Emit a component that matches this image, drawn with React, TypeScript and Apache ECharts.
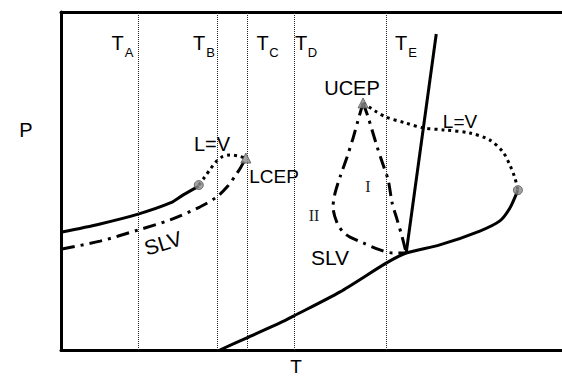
import React, { useEffect, useRef } from "react";
import * as echarts from "echarts";

// Isotherm temperatures (T units, 0..100) and their names
const isothermNames = ["A", "B", "C", "D", "E"];
const isothermT = [15.4, 31.1, 37.1, 46.5, 64.9];

// Left pure-component vapour-pressure branch (solid)
const vpLeft: [number, number][] = [
  [0.2, 34.9], [7.8, 37.3], [15.4, 40.2], [21.8, 43.5], [24.4, 45.9], [27.5, 48.5],
];
// Left SLV line (dash-dot) ending at LCEP
const slvLeft: [number, number][] = [
  [0.2, 29.9], [7.8, 32.2], [15.4, 35.5], [21.8, 38.5], [27.7, 42.3], [31.1, 45.3],
  [33.3, 48.5], [34.9, 51.8], [35.9, 54.1], [36.9, 56.8],
];
// Left L=V critical line (dotted)
const lvLeft: [number, number][] = [
  [27.5, 48.8], [28.7, 51.2], [29.7, 53.3], [30.7, 55.3], [32.1, 57.1], [33.7, 57.7],
  [35.3, 57.4], [36.9, 56.8],
];
// Right L=V critical line (dotted) from UCEP to critical point
const lvRight: [number, number][] = [
  [60.3, 73.1], [62.7, 70.7], [64.9, 68.9], [68.7, 67.2], [72.3, 65.7], [76.6, 65.1],
  [81.6, 64.2], [85.6, 62.1], [88.2, 58.6], [89.6, 54.7], [90.6, 50.9], [91.2, 47.3],
];
// Steep melting line (solid)
const melting: [number, number][] = [[74.9, 93.5], [68.9, 28.7]];
// Lower solid curve (sublimation / vapour pressure)
const vpRight: [number, number][] = [
  [31.7, 0], [37.1, 3.6], [43.7, 8.0], [46.5, 10.1], [55.7, 17.2], [64.9, 25.7],
  [68.9, 28.7], [75.6, 31.1], [83.6, 35.2], [87.6, 38.2], [89.6, 42.0], [91.2, 47.3],
];
// SLV loop branches (dash-dot) from UCEP
const slvLoopOuter: [number, number][] = [
  [60.3, 73.1], [59.3, 68.0], [58.3, 62.7], [57.1, 57.1], [55.7, 51.2], [54.7, 46.4],
  [54.3, 42.3], [55.1, 37.6], [56.3, 34.9], [57.7, 33.4], [60.3, 31.7], [63.7, 29.6],
  [66.3, 28.7], [68.9, 28.7],
];
const slvLoopInner: [number, number][] = [
  [60.3, 73.1], [61.3, 68.9], [63.1, 60.1], [64.1, 55.6], [65.3, 50.3], [66.1, 43.5],
  [67.1, 38.5], [68.1, 33.4], [68.9, 28.7],
];
// Critical points (circles) and end points (triangles)
const criticalPoints: [number, number][] = [[27.5, 48.8], [91.2, 47.3]];
const endPoints: [number, number][] = [[36.9, 56.8], [60.3, 73.1]];

const FONT = "'Liberation Sans', Arial, Helvetica, sans-serif";
const SERIF = "'Liberation Serif', 'Times New Roman', serif";

const solid = { color: "#000", width: 3, cap: "butt" as const };
const dashDot = { color: "#000", width: 3, type: [13, 6, 3, 6], cap: "butt" as const };
const dotted = { color: "#000", width: 3, type: [3, 4], cap: "butt" as const };

function lineSeries(name: string, data: [number, number][], lineStyle: any, smooth: number | boolean = 0.3) {
  return {
    name,
    type: "line",
    data,
    smooth,
    symbol: "none",
    lineStyle,
    silent: true,
    clip: false,
  };
}

export default function App() {
  const ref = useRef<HTMLDivElement>(null);
  useEffect(() => {
    if (!ref.current) return;
    const chart = echarts.init(ref.current, null, { renderer: "svg" });
    const axisLine = { show: true, onZero: false, lineStyle: { color: "#000", width: 3 } };
    const txt = (text: string, x: number, y: number, fontSize: number, extra: any = {}) => ({
      type: "text",
      x,
      y,
      silent: true,
      z: 100,
      style: {
        text,
        fontSize,
        fontFamily: FONT,
        fill: "#000",
        align: "center",
        verticalAlign: "middle",
        ...extra,
      },
    });
    const tLabelX = [117.5, 199, 262.5, 301, 401];
    const graphics: any[] = [];
    isothermNames.forEach((n, i) => {
      graphics.push(txt("T", tLabelX[i], 43, 20));
      graphics.push(txt(n, tLabelX[i] + 11.5, 52, 13));
    });
    graphics.push(txt("P", 26, 130, 20));
    graphics.push(txt("T", 296, 366, 19));
    graphics.push(txt("L=V", 212, 144, 20));
    graphics.push(txt("LCEP", 274, 176, 19));
    graphics.push(txt("UCEP", 352, 88, 20));
    graphics.push(txt("L=V", 460, 121, 19));
    graphics.push(txt("SLV", 330, 257, 21));
    graphics.push({ ...txt("SLV", 163, 243, 21), rotation: 0.3 });
    graphics.push(txt("I", 368, 186, 16, { fontFamily: SERIF, fill: "#222" }));
    graphics.push(txt("II", 314, 215, 16, { fontFamily: SERIF, fill: "#222" }));

    chart.setOption({
      animation: false,
      backgroundColor: "#fff",
      grid: { left: 61, right: 0, top: 12, bottom: 28 },
      xAxis: [
        {
          type: "value", min: 0, max: 100, position: "bottom",
          axisLine, axisTick: { show: false }, axisLabel: { show: false }, splitLine: { show: false },
        },
        {
          type: "value", min: 0, max: 100, position: "top",
          axisLine, axisTick: { show: false }, axisLabel: { show: false }, splitLine: { show: false },
        },
      ],
      yAxis: {
        type: "value", min: 0, max: 100,
        axisLine, axisTick: { show: false }, axisLabel: { show: false }, splitLine: { show: false },
      },
      series: [
        {
          name: "isotherms",
          type: "line",
          data: [],
          silent: true,
          markLine: {
            silent: true,
            symbol: "none",
            label: { show: false },
            lineStyle: { color: "#222", width: 1, type: [1, 1] },
            data: isothermT.map((t) => ({ xAxis: t })),
          },
        },
        lineSeries("vpLeft", vpLeft, solid),
        lineSeries("slvLeft", slvLeft, dashDot),
        lineSeries("lvLeft", lvLeft, dotted),
        lineSeries("lvRight", lvRight, dotted),
        lineSeries("melting", melting, solid, false),
        lineSeries("vpRight", vpRight, solid, 0.25),
        lineSeries("slvLoopOuter", slvLoopOuter, dashDot),
        lineSeries("slvLoopInner", slvLoopInner, dashDot),
        {
          name: "critical",
          type: "scatter",
          data: criticalPoints,
          symbol: "circle",
          symbolSize: 9,
          itemStyle: { color: "#8c8c8c", borderColor: "#555", borderWidth: 1 },
          silent: true,
          z: 10,
        },
        {
          name: "endpoints",
          type: "scatter",
          data: endPoints,
          symbol: "triangle",
          symbolSize: 10,
          itemStyle: { color: "#8c8c8c", borderColor: "#555", borderWidth: 1 },
          silent: true,
          z: 10,
        },
      ],
      graphic: graphics,
    });
    return () => chart.dispose();
  }, []);
  return (
    <div
      ref={ref}
      style={{ position: "fixed", left: 0, top: 0, width: 562, height: 378, background: "#fff" }}
    />
  );
}
